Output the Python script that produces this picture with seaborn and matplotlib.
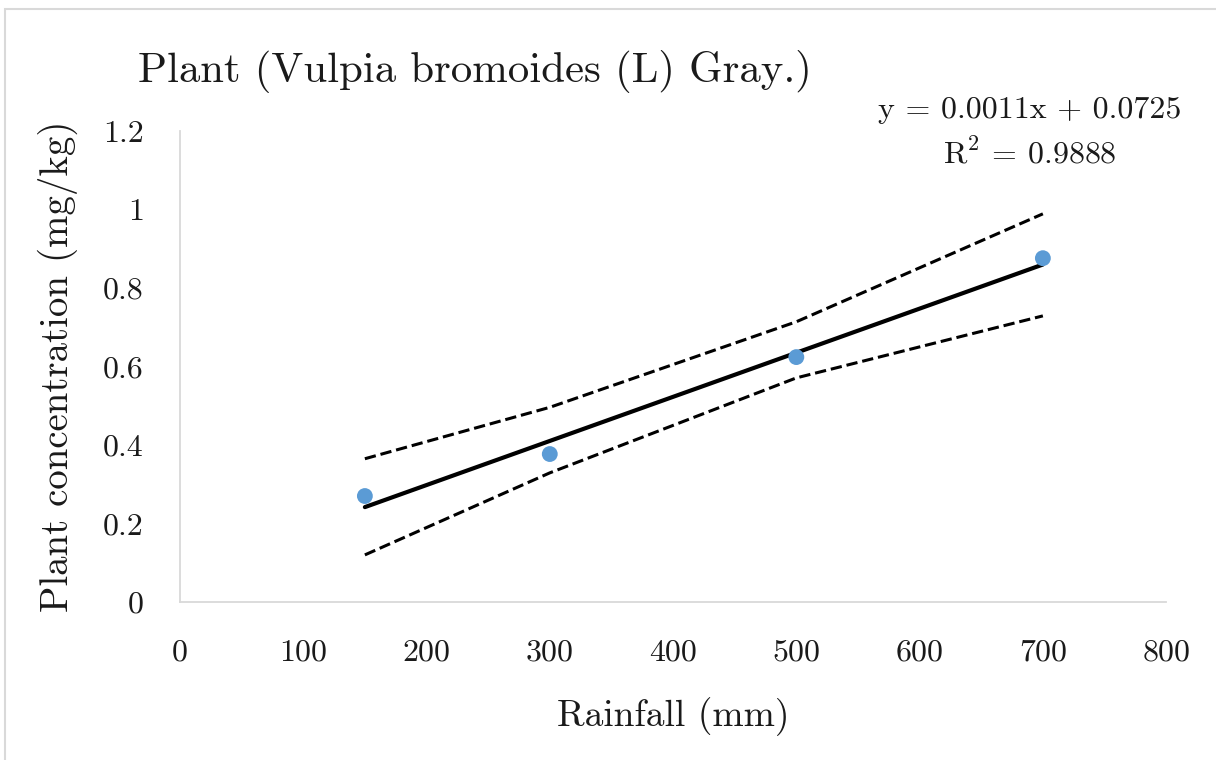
import numpy as np
import pandas as pd
import seaborn as sns
import matplotlib.pyplot as plt
from matplotlib.patches import Rectangle

# Observed data
rainfall = [150, 300, 500, 700]
concentration = [0.270, 0.377, 0.624, 0.876]

# Confidence band around the fitted line, at each rainfall level
band_upper = [0.365, 0.496, 0.714, 0.989]
band_lower = [0.120, 0.329, 0.571, 0.729]

x_ticks = [0, 100, 200, 300, 400, 500, 600, 700, 800]
y_ticks = [0, 0.2, 0.4, 0.6, 0.8, 1.0, 1.2]
y_tick_labels = ["0", "0.2", "0.4", "0.6", "0.8", "1", "1.2"]

title = "Plant (Vulpia bromoides (L) Gray.)"
equation = "y = 0.0011x + 0.0725"
r2_text = r"R$^2$ = 0.9888"

sns.set_theme(style="white")
plt.rcParams["font.family"] = ["cmr10", "DejaVu Serif"]
plt.rcParams["mathtext.fontset"] = "cm"
plt.rcParams["axes.formatter.use_mathtext"] = True

slope, intercept = np.polyfit(rainfall, concentration, 1)
fit = [slope * x + intercept for x in rainfall]

df = pd.DataFrame({
    "rainfall": rainfall,
    "concentration": concentration,
    "fit": fit,
    "upper": band_upper,
    "lower": band_lower,
})

fig = plt.figure(figsize=(12.16, 7.6), dpi=100)
ax = fig.add_axes([0.148, 0.2079, 0.811, 0.6197])

sns.lineplot(data=df, x="rainfall", y="upper", ax=ax, color="black",
             lw=2.2, dashes=(3.9, 2.6), linestyle="--")
sns.lineplot(data=df, x="rainfall", y="lower", ax=ax, color="black",
             lw=2.2, dashes=(3.9, 2.6), linestyle="--")
sns.lineplot(data=df, x="rainfall", y="fit", ax=ax, color="black", lw=3.0)
sns.scatterplot(data=df, x="rainfall", y="concentration", ax=ax,
                color="#5B9BD5", s=130, edgecolor="none", zorder=5)

ax.set_xlim(0, 800)
ax.set_ylim(0, 1.2)
ax.set_xticks(x_ticks)
ax.set_xticklabels([str(t) for t in x_ticks])
ax.set_yticks(y_ticks)
ax.set_yticklabels(y_tick_labels)
ax.tick_params(axis="both", length=0, labelsize=23, colors="#1a1a1a")
ax.tick_params(axis="x", pad=27)
ax.tick_params(axis="y", pad=26)

for side in ["top", "right"]:
    ax.spines[side].set_visible(False)
for side in ["left", "bottom"]:
    ax.spines[side].set_color("#D9D9D9")
    ax.spines[side].set_linewidth(1.3)

ax.set_xlabel("Rainfall (mm)", fontsize=27, labelpad=22, color="#1a1a1a")
ax.set_ylabel("Plant concentration (mg/kg)", fontsize=28, labelpad=18,
              color="#1a1a1a")

fig.text(138 / 1216, 1 - 82 / 760, title, fontsize=30.8, ha="left",
         va="baseline", color="#1a1a1a")
fig.text(1030 / 1216, 1 - 118 / 760, equation, fontsize=23, ha="center",
         va="baseline", color="#1a1a1a")
fig.text(1030 / 1216, 1 - 163 / 760, r2_text, fontsize=23, ha="center",
         va="baseline", color="#1a1a1a")

# Chart-area border
fig.patches.append(Rectangle((5 / 1216, -0.05), 1.1, 1 - 9 / 760 + 0.05,
                             transform=fig.transFigure, fill=False,
                             edgecolor="#D9D9D9", lw=1.5))

fig.savefig("out.png", dpi=100)
